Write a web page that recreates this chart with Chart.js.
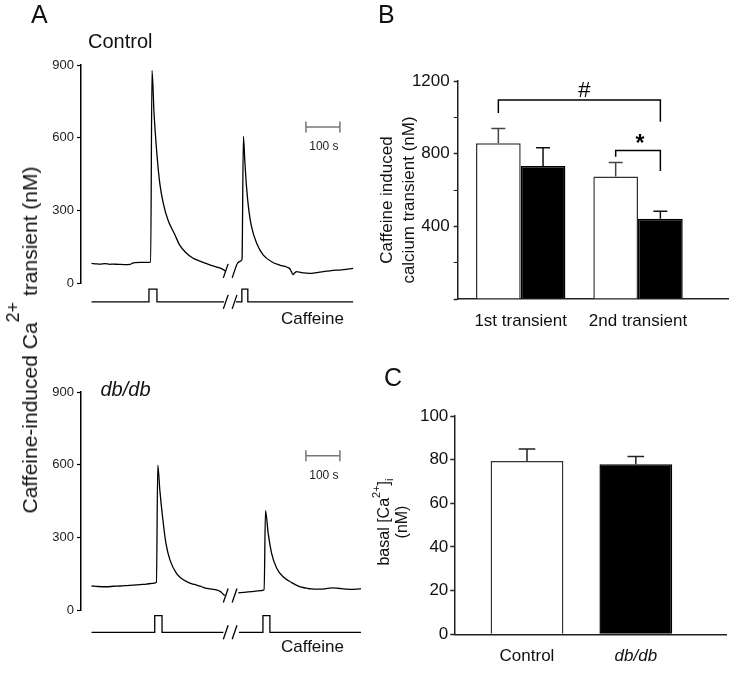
<!DOCTYPE html>
<html>
<head>
<meta charset="utf-8">
<title>Caffeine-induced calcium transients</title>
<script src="https://cdn.jsdelivr.net/npm/chart.js@4.4.1/dist/chart.umd.min.js"></script>
<style>
  html, body { margin:0; padding:0; background:#fff; }
  body { position:relative; width:755px; height:694px; overflow:hidden;
         font-family:'Liberation Sans', Arial, Helvetica, sans-serif; color:#111; }
  canvas { position:absolute; left:0; top:0; }
  .lbl { position:absolute; white-space:nowrap; line-height:1; }
  .rot { position:absolute; white-space:nowrap; text-align:center;
         transform:translate(-50%,-50%) rotate(-90deg); }
  .sp { position:relative; line-height:0; }
</style>
</head>
<body>
<canvas id="chartA1" width="755" height="694"></canvas>
<canvas id="chartA2" width="755" height="694"></canvas>
<canvas id="chartB" width="755" height="694"></canvas>
<canvas id="chartC" width="755" height="694"></canvas>

<div class="lbl" style="left:31px;top:2px;font-size:25px;">A</div>
<div class="lbl" style="left:378px;top:2px;font-size:25px;">B</div>
<div class="lbl" style="left:384px;top:364.5px;font-size:25px;">C</div>
<div class="lbl" style="left:88px;top:31.4px;font-size:20px;">Control</div>
<div class="lbl" style="left:100.5px;top:379px;font-size:20px;font-style:italic;">db/db</div>
<div class="lbl" style="left:281px;top:310px;font-size:17px;">Caffeine</div>
<div class="lbl" style="left:281px;top:638px;font-size:17px;">Caffeine</div>

<div class="rot" style="left:30px;top:340px;font-size:21px;line-height:24px;">Caffeine-induced Ca<span class="sp" style="font-size:18px;top:-18px;">2+</span> transient (nM)</div>
<div class="rot" style="left:398px;top:200px;font-size:17px;line-height:22px;">Caffeine induced<br>calcium transient (nM)</div>
<div class="rot" style="left:393px;top:522px;font-size:16px;line-height:18px;">basal [Ca<span class="sp" style="font-size:11px;top:-9px;">2+</span>]<span class="sp" style="font-size:11px;top:4px;">i</span><br>(nM)</div>

<script>
// ================= DATA =================
// Panel A – representative Fura-2 traces, [time (s), Ca2+ (nM)]
const controlTrace1 = [[31,81],[45,79],[56,78],[70,80],[85,77],[94,78],[110,77],[129,76],[144,77],[152,82],[159,84],[175,85],[188,85],[205,86],[209,878],[215,700],[223,540],[232,410],[242,330],[256,260],[276,200],[291,155],[309,125],[329,103],[350,90],[365,82],[379,75],[400,66],[418,56],[424,50]];
const controlTrace2 = [[459,80],[466,88],[472,92],[474,100],[478,605],[482,508],[487,400],[494,300],[502,232],[517,164],[536,116],[561,88],[585,74],[605,66],[614,60],[618,50],[624,35],[629,42],[634,47],[649,43],[664,41],[679,40],[694,43],[708,46],[722,49],[737,51],[752,53],[767,54],[785,57],[801,60]];
const dbTrace1 = [[31,99],[50,97],[76,96],[95,98],[115,99],[135,101],[154,103],[175,105],[193,107],[210,110],[222,115],[226,598],[232,495],[240,385],[250,275],[262,206],[281,151],[296,130],[311,117],[325,109],[340,103],[355,96],[370,89],[385,86],[399,83],[410,77],[418,66],[423,60]];
const dbTrace2 = [[463,71],[480,73],[502,76],[520,79],[539,83],[543,410],[551,316],[561,234],[576,172],[595,137],[620,113],[635,102],[649,94],[664,90],[678,87],[698,86],[718,87],[737,91],[752,90],[767,88],[782,86],[796,85],[810,86],[824,88]];
// caffeine application windows [on, off] (s) and recording breaks [from, to] (s)
const controlCaffeine = [[200,223.5],[473.5,491]];
const dbCaffeine = [[217,238.5],[535.5,556]];
const controlGap = [421,456];
const dbGap = [419,465];
const breakMarkTimes = [426,452];
const scaleBarSeconds = 100;
const traceTicks = [0,300,600,900];

// Panel B – caffeine induced calcium transient (nM), mean and SEM
const transientCategories = ['1st transient','2nd transient'];
const controlTransientMean = [857,675];
const controlTransientSEM = [82,77];
const dbTransientMean = [732,442];
const dbTransientSEM = [101,41];
const transientTicks = [0,200,400,600,800,1000,1200];
const transientLabelled = [400,800,1200];
// significance brackets: [fromDataset, fromIndex, toDataset, toIndex, level, leftEnd, rightEnd, mark]
const transientBrackets = [
  [0,0,1,1,1095,1024,976,'#'],
  [0,1,1,1,818,783,705,'*']
];

// Panel C – basal [Ca2+]i (nM), mean and SEM
const basalGroups = ['Control','db/db'];
const basalMean = [79.4,77.9];
const basalSEM = [5.5,3.6];
const basalTicks = [0,20,40,60,80,100];

// ================= RENDERING =================
Chart.defaults.font.family = "'Liberation Sans', Arial, Helvetica, sans-serif";
Chart.defaults.color = '#111';
Chart.defaults.animation = false;

const W = 755, H = 694, AXW = 70, AXH = 40;
const pad = a => ({ left: a.left - AXW, top: a.top, right: W - a.right, bottom: H - a.bottom - (a.xh || 0) });
const pts = arr => arr.map(([x, y]) => ({ x, y }));

function stimSegments(t0, t1, pulses, gap, base, high) {
  const seg = (a, b) => {
    const out = [{ x: a, y: base }];
    pulses.forEach(([on, off]) => {
      if (on > a && off < b) out.push({ x: on, y: base }, { x: on, y: high }, { x: off, y: high }, { x: off, y: base });
    });
    out.push({ x: b, y: base });
    return out;
  };
  return [seg(t0, gap[0]), seg(gap[1], t1)];
}

function makeTrace(id, area, tr1, tr2, pulses, gap, stimBase, stimHigh, barLevel) {
  const stim = stimSegments(tr1[0][0], tr2[tr2.length - 1][0], pulses, gap, stimBase, stimHigh);
  const ds = (data, extra) => Object.assign({
    data, borderColor: '#000', borderWidth: 1.3, pointRadius: 0, fill: false,
    tension: 0, cubicInterpolationMode: 'monotone'
  }, extra || {});
  const decor = {
    id: 'decor_' + id,
    afterDatasetsDraw(chart) {
      const ctx = chart.ctx, xs = chart.scales.x, ys = chart.scales.y;
      ctx.save();
      // axis break marks on the trace and on the caffeine line
      ctx.strokeStyle = '#000'; ctx.lineWidth = 1.3;
      const levels = [tr1[tr1.length - 1][1], stimBase];
      breakMarkTimes.forEach(t => levels.forEach(v => {
        const x = xs.getPixelForValue(t), y = ys.getPixelForValue(v);
        ctx.beginPath(); ctx.moveTo(x - 2.4, y + 7); ctx.lineTo(x + 2.4, y - 7); ctx.stroke();
      }));
      // time scale bar
      const bx0 = xs.getPixelForValue(662), bx1 = xs.getPixelForValue(662 + scaleBarSeconds);
      const by = ys.getPixelForValue(barLevel);
      ctx.strokeStyle = '#777'; ctx.lineWidth = 1.5;
      ctx.beginPath();
      ctx.moveTo(bx0, by); ctx.lineTo(bx1, by);
      ctx.moveTo(bx0, by - 5.5); ctx.lineTo(bx0, by + 5.5);
      ctx.moveTo(bx1, by - 5.5); ctx.lineTo(bx1, by + 5.5);
      ctx.stroke();
      ctx.fillStyle = '#222'; ctx.font = "12px 'Liberation Sans', Arial, sans-serif";
      ctx.textAlign = 'center'; ctx.textBaseline = 'alphabetic';
      ctx.fillText(scaleBarSeconds + ' s', (bx0 + bx1) / 2 + 1, by + 23);
      ctx.restore();
    }
  };
  return new Chart(document.getElementById(id), {
    type: 'line',
    data: { datasets: [
      ds(pts(tr1)), ds(pts(tr2)),
      ds(stim[0], { clip: false, cubicInterpolationMode: 'default' }),
      ds(stim[1], { clip: false, cubicInterpolationMode: 'default' })
    ] },
    options: {
      responsive: false, animation: false, devicePixelRatio: 1,
      layout: { padding: pad(area) },
      plugins: { legend: { display: false }, tooltip: { enabled: false } },
      scales: {
        x: { type: 'linear', display: false, min: 0, max: 830 },
        y: {
          type: 'linear', min: 0, max: 900,
          afterBuildTicks: s => { s.ticks = traceTicks.map(v => ({ value: v })); },
          afterFit: s => { s.width = AXW; },
          grid: { drawOnChartArea: false, drawTicks: true, tickLength: 4, tickColor: '#000', tickWidth: 1.2 },
          border: { display: true, color: '#000', width: 1.5 },
          ticks: { font: { size: 13 }, color: '#222', padding: 3 }
        }
      }
    },
    plugins: [decor]
  });
}

makeTrace('chartA1', { left: 81, right: 363, top: 65, bottom: 283 },
  controlTrace1, controlTrace2, controlCaffeine, controlGap, -78, -25, 644);
makeTrace('chartA2', { left: 81, right: 363, top: 392, bottom: 610 },
  dbTrace1, dbTrace2, dbCaffeine, dbGap, -92, -23.5, 637);

function errorBars(id, errs, colors, cap) {
  return {
    id: 'err_' + id,
    afterDatasetsDraw(chart) {
      const ctx = chart.ctx, ys = chart.scales.y;
      ctx.save(); ctx.lineWidth = 1.5;
      chart.data.datasets.forEach((d, di) => {
        chart.getDatasetMeta(di).data.forEach((bar, i) => {
          const yTop = ys.getPixelForValue(d.data[i].y + errs[di][i]);
          ctx.strokeStyle = colors[di][i];
          ctx.beginPath();
          ctx.moveTo(bar.x, bar.y); ctx.lineTo(bar.x, yTop);
          ctx.moveTo(bar.x - cap, yTop); ctx.lineTo(bar.x + cap, yTop);
          ctx.stroke();
        });
      });
      ctx.restore();
    }
  };
}

const bracketPlugin = {
  id: 'brackets',
  afterDatasetsDraw(chart) {
    const ctx = chart.ctx, ys = chart.scales.y;
    ctx.save(); ctx.strokeStyle = '#000'; ctx.lineWidth = 1.5; ctx.fillStyle = '#000';
    transientBrackets.forEach(([d0, i0, d1, i1, lvl, le, re, mark]) => {
      const x0 = chart.getDatasetMeta(d0).data[i0].x, x1 = chart.getDatasetMeta(d1).data[i1].x;
      const y = ys.getPixelForValue(lvl);
      ctx.beginPath();
      ctx.moveTo(x0, ys.getPixelForValue(le)); ctx.lineTo(x0, y); ctx.lineTo(x1, y); ctx.lineTo(x1, ys.getPixelForValue(re));
      ctx.stroke();
      ctx.textAlign = 'center'; ctx.textBaseline = 'alphabetic';
      if (mark === '*') {
        ctx.font = "bold 23px 'Liberation Sans', Arial, sans-serif";
        ctx.fillText(mark, (x0 + x1) / 2 + 2, y + 1);
      } else {
        ctx.font = "22px 'Liberation Sans', Arial, sans-serif";
        ctx.fillText(mark, (x0 + x1) / 2 + 5, y - 3.5);
      }
    });
    ctx.restore();
  }
};

// Panel B
new Chart(document.getElementById('chartB'), {
  type: 'bar',
  data: { datasets: [
    { label: 'Control', data: controlTransientMean.map((v, i) => ({ x: i + 1, y: v })),
      backgroundColor: '#fff', borderColor: '#333', borderWidth: 1.5, categoryPercentage: 0.762, barPercentage: 1 },
    { label: 'db/db', data: dbTransientMean.map((v, i) => ({ x: i + 1, y: v })),
      backgroundColor: '#000', borderColor: '#000', borderWidth: 1.5, categoryPercentage: 0.762, barPercentage: 1 }
  ] },
  options: {
    responsive: false, animation: false, devicePixelRatio: 1,
    layout: { padding: pad({ left: 457.7, right: 728, top: 81, bottom: 299, xh: AXH }) },
    plugins: { legend: { display: false }, tooltip: { enabled: false } },
    scales: {
      x: {
        type: 'linear', min: 0.463, max: 2.767, offset: false,
        afterBuildTicks: s => { s.ticks = transientCategories.map((c, i) => ({ value: i + 1 })); },
        afterFit: s => { s.height = AXH; },
        grid: { display: false, drawTicks: false },
        border: { display: true, color: '#222', width: 1.5 },
        ticks: { callback: v => transientCategories[v - 1] || '', font: { size: 17 }, color: '#111',
                 padding: 12, maxRotation: 0, autoSkip: false }
      },
      y: {
        type: 'linear', min: 0, max: 1200,
        afterBuildTicks: s => { s.ticks = transientTicks.map(v => ({ value: v })); },
        afterFit: s => { s.width = AXW; },
        grid: { drawOnChartArea: false, tickLength: 4, tickColor: '#222',
                tickWidth: c => (c.tick && transientLabelled.includes(c.tick.value)) || (c.tick && c.tick.value === 0) ? 1.5 : 1 },
        border: { display: true, color: '#222', width: 1.5 },
        ticks: { callback: v => transientLabelled.includes(v) ? String(v) : '', font: { size: 17 }, color: '#111', padding: 4 }
      }
    }
  },
  plugins: [errorBars('B', [controlTransientSEM, dbTransientSEM], [['#444', '#444'], ['#111', '#111']], 7), bracketPlugin]
});

// Panel C
new Chart(document.getElementById('chartC'), {
  type: 'bar',
  data: { datasets: [
    { label: 'basal', data: basalMean.map((v, i) => ({ x: i + 1, y: v })),
      backgroundColor: ['#fff', '#000'], borderColor: ['#333', '#000'], borderWidth: 1.5,
      categoryPercentage: 0.669, barPercentage: 1 }
  ] },
  options: {
    responsive: false, animation: false, devicePixelRatio: 1,
    layout: { padding: pad({ left: 454.3, right: 726.7, top: 416, bottom: 634.3, xh: AXH }) },
    plugins: { legend: { display: false }, tooltip: { enabled: false } },
    scales: {
      x: {
        type: 'linear', min: 0.332, max: 2.835, offset: false,
        afterBuildTicks: s => { s.ticks = basalGroups.map((g, i) => ({ value: i + 1 })); },
        afterFit: s => { s.height = AXH; },
        grid: { display: false, drawTicks: false },
        border: { display: true, color: '#222', width: 1.5 },
        ticks: { callback: v => basalGroups[v - 1] || '',
                 font: c => ({ size: 17, style: c.index === 1 ? 'italic' : 'normal' }),
                 color: '#111', padding: 12, maxRotation: 0, autoSkip: false }
      },
      y: {
        type: 'linear', min: 0, max: 100,
        afterBuildTicks: s => { s.ticks = basalTicks.map(v => ({ value: v })); },
        afterFit: s => { s.width = AXW; },
        grid: { drawOnChartArea: false, tickLength: 4, tickColor: '#222', tickWidth: 1.5 },
        border: { display: true, color: '#222', width: 1.5 },
        ticks: { font: { size: 17 }, color: '#111', padding: 2 }
      }
    }
  },
  plugins: [errorBars('C', [basalSEM], [['#222', '#222']], 8.3)]
});
</script>
</body>
</html>
